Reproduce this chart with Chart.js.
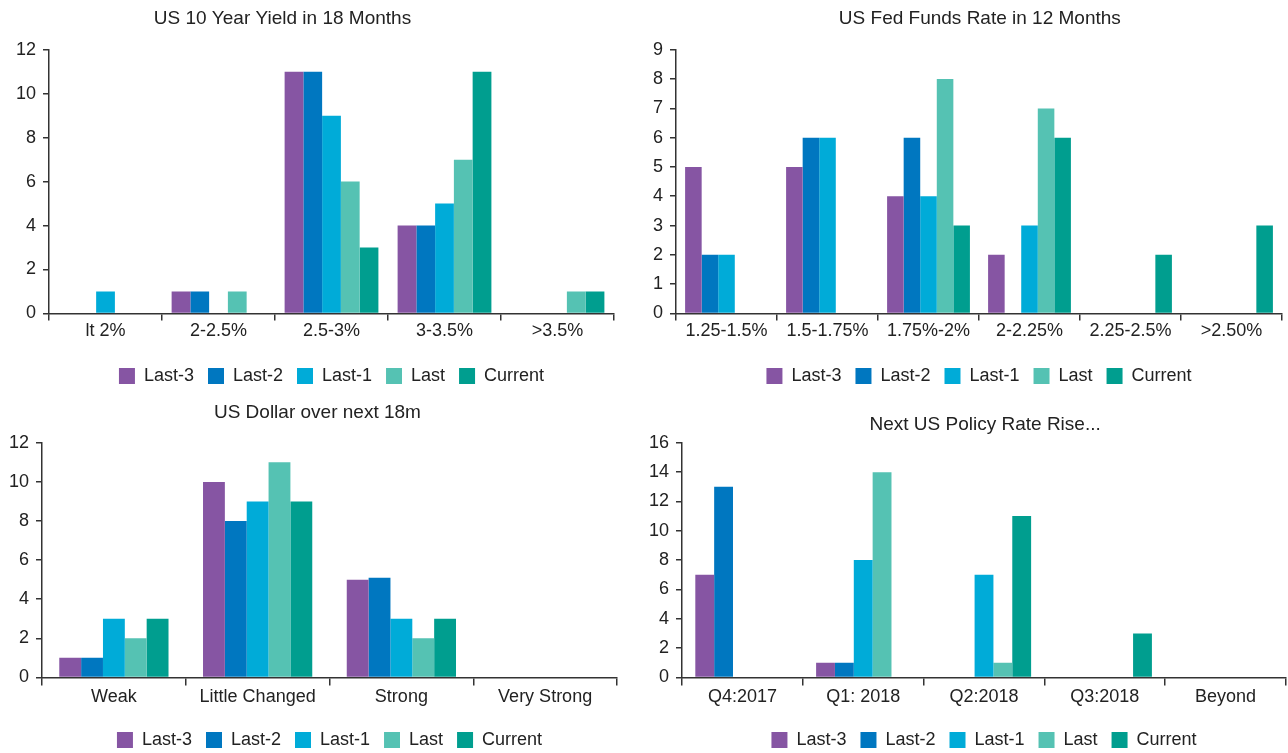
<!DOCTYPE html>
<html>
<head>
<meta charset="utf-8">
<script src="https://cdn.jsdelivr.net/npm/chart.js@4"></script>
<style>
  body { margin: 0; background: #fff; width: 1288px; height: 753px; overflow: hidden; position: relative; }
  .panel { position: absolute; }
  #p1 { left: 0; top: 0; width: 644px; height: 395px; }
  #p2 { left: 640px; top: 0; width: 648px; height: 395px; }
  #p3 { left: 0; top: 395px; width: 644px; height: 364px; }
  #p4 { left: 640px; top: 395px; width: 648px; height: 364px; }
</style>
</head>
<body>
<div class="panel" id="p1"><canvas id="c1"></canvas></div>
<div class="panel" id="p2"><canvas id="c2"></canvas></div>
<div class="panel" id="p3"><canvas id="c3"></canvas></div>
<div class="panel" id="p4"><canvas id="c4"></canvas></div>
<script>
// series names and colours shared by all four panels
const SERIES = ['Last-3', 'Last-2', 'Last-1', 'Last', 'Current'];
const COLORS = ['#8655a3', '#0077c0', '#00abd8', '#55c2b3', '#009e8f'];

// US 10 Year Yield in 18 Months
const yieldCats = ['lt 2%', '2-2.5%', '2.5-3%', '3-3.5%', '>3.5%'];
const yieldLast3 = [0, 1, 11, 4, 0];
const yieldLast2 = [0, 1, 11, 4, 0];
const yieldLast1 = [1, 0, 9, 5, 0];
const yieldLast = [0, 1, 6, 7, 1];
const yieldCurrent = [0, 0, 3, 11, 1];

// US Fed Funds Rate in 12 Months
const fedCats = ['1.25-1.5%', '1.5-1.75%', '1.75%-2%', '2-2.25%', '2.25-2.5%', '>2.50%'];
const fedLast3 = [5, 5, 4, 2, 0, 0];
const fedLast2 = [2, 6, 6, 0, 0, 0];
const fedLast1 = [2, 6, 4, 3, 0, 0];
const fedLast = [0, 0, 8, 7, 0, 0];
const fedCurrent = [0, 0, 3, 6, 2, 3];

// US Dollar over next 18m
const usdCats = ['Weak', 'Little Changed', 'Strong', 'Very Strong'];
const usdLast3 = [1, 10, 5, 0];
const usdLast2 = [1, 8, 5.1, 0];
const usdLast1 = [3, 9, 3, 0];
const usdLast = [2, 11, 2, 0];
const usdCurrent = [3, 9, 3, 0];

// Next US Policy Rate Rise...
const riseCats = ['Q4:2017', 'Q1: 2018', 'Q2:2018', 'Q3:2018', 'Beyond'];
const riseLast3 = [7, 1, 0, 0, 0];
const riseLast2 = [13, 1, 0, 0, 0];
const riseLast1 = [0, 8, 7, 0, 0];
const riseLast = [0, 14, 1, 0, 0];
const riseCurrent = [0, 0, 11, 3, 0];

const FONT = "'Liberation Sans', Arial, sans-serif";
const TEXT = '#222';
const AXIS = '#333';

// the source titles are not centred on their panels, nudge them with spaces
function nudge(text, shift) {
  const sp = ' '.repeat(Math.abs(shift));
  return shift < 0 ? text + sp : sp + text;
}

function makeChart(id, title, cats, series, yMax, yStep, opts) {
  const datasets = series.map((data, i) => ({
    label: SERIES[i],
    data: data,
    backgroundColor: COLORS[i],
    borderWidth: 0,
    categoryPercentage: opts.catPct,
    barPercentage: 1
  }));

  return new Chart(document.getElementById(id), {
    type: 'bar',
    data: { labels: cats, datasets },
    options: {
      responsive: true,
      maintainAspectRatio: false,
      animation: false,
      layout: { padding: opts.padding },
      plugins: {
        title: {
          display: true,
          text: nudge(title, opts.titleShift),
          color: TEXT,
          font: { family: FONT, size: 19, weight: 'normal' },
          padding: opts.titlePad
        },
        legend: {
          position: 'bottom',
          fullSize: false,
          labels: {
            color: TEXT,
            font: { family: FONT, size: 18 },
            boxWidth: 16,
            boxHeight: 16,
            padding: 14
          }
        },
        tooltip: { enabled: false }
      },
      scales: {
        x: {
          grid: { display: true, offset: true, drawOnChartArea: false, tickLength: opts.xTick, color: AXIS, lineWidth: 1.5 },
          border: { color: AXIS, width: 1.5 },
          ticks: { color: TEXT, font: { family: FONT, size: 18 }, padding: opts.xPad, maxRotation: 0, autoSkip: false },
          // leave room between the category labels and the legend
          afterFit: (scale) => { scale.height += opts.xExtra; }
        },
        y: {
          min: 0,
          max: yMax,
          grid: { display: true, drawOnChartArea: false, tickLength: 6, color: AXIS, lineWidth: 1.5 },
          border: { color: AXIS, width: 1.5 },
          ticks: { stepSize: yStep, color: TEXT, font: { family: FONT, size: 18 }, padding: 7 }
        }
      }
    }
  });
}

makeChart('c1', 'US 10 Year Yield in 18 Months', yieldCats,
  [yieldLast3, yieldLast2, yieldLast1, yieldLast, yieldCurrent], 12, 2,
  { catPct: 0.83, padding: { left: 9, right: 30, top: 7, bottom: 0 }, titlePad: { top: 0, bottom: 20 },
    titleShift: -11, xTick: 7, xPad: 0, xExtra: 11 });

makeChart('c2', 'US Fed Funds Rate in 12 Months', fedCats,
  [fedLast3, fedLast2, fedLast1, fedLast, fedCurrent], 9, 1,
  { catPct: 0.82, padding: { left: 6, right: 6, top: 7, bottom: 0 }, titlePad: { top: 0, bottom: 20 },
    titleShift: 6, xTick: 7, xPad: 0, xExtra: 11 });

makeChart('c3', 'US Dollar over next 18m', usdCats,
  [usdLast3, usdLast2, usdLast1, usdLast, usdCurrent], 12, 2,
  { catPct: 0.76, padding: { left: 2, right: 27, top: 6, bottom: 0 }, titlePad: { top: 0, bottom: 19 },
    titleShift: 3, xTick: 8, xPad: 1, xExtra: 8 });

makeChart('c4', 'Next US Policy Rate Rise...', riseCats,
  [riseLast3, riseLast2, riseLast1, riseLast, riseCurrent], 16, 2,
  { catPct: 0.78, padding: { left: 2, right: 2, top: 18, bottom: 0 }, titlePad: { top: 0, bottom: 7 },
    titleShift: 8, xTick: 8, xPad: 1, xExtra: 8 });
</script>
</body>
</html>
